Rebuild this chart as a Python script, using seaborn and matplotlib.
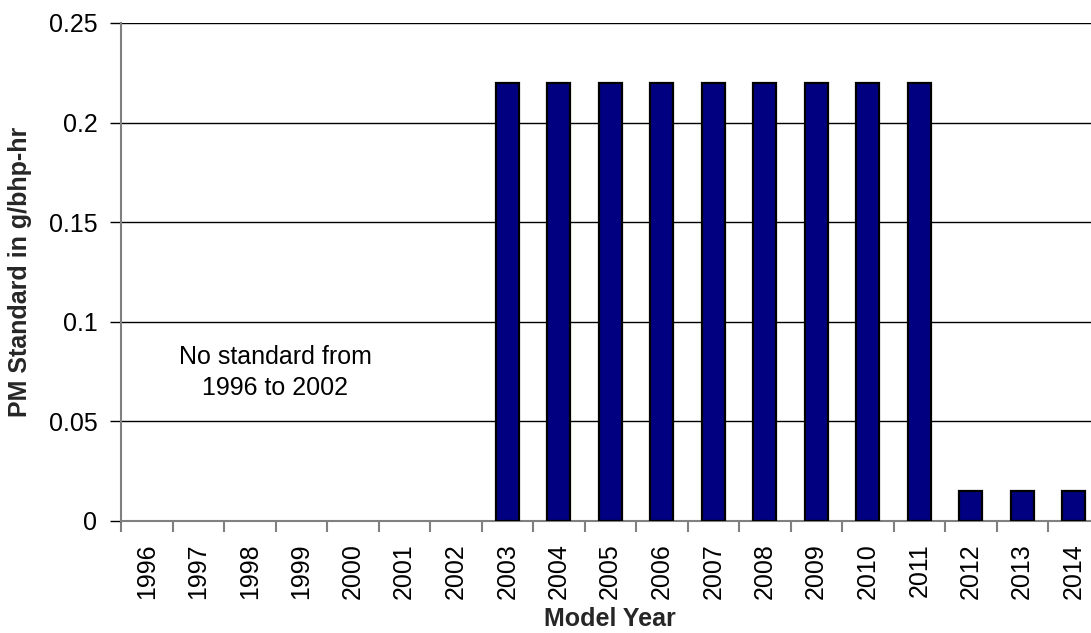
import matplotlib
matplotlib.use("Agg")
import matplotlib.pyplot as plt
import seaborn as sns
import pandas as pd
import numpy as np

years = [str(y) for y in range(1996, 2015)]
pm_standard = [0, 0, 0, 0, 0, 0, 0,
               0.22, 0.22, 0.22, 0.22, 0.22, 0.22, 0.22, 0.22, 0.22,
               0.015, 0.015, 0.015]
y_ticks = [0, 0.05, 0.1, 0.15, 0.2, 0.25]
y_tick_labels = ["0", "0.05", "0.1", "0.15", "0.2", "0.25"]
note_text = "No standard from\n1996 to 2002"

sns.set_theme(style="white")
plt.rcParams['font.family'] = ['Liberation Sans', 'DejaVu Sans']

W, H = 1091, 633
fig = plt.figure(figsize=(W / 100, H / 100), dpi=100)
left, right, top, bottom = 121, 121 + 19 * 51.5, 23, 521
ax = fig.add_axes([left / W, 1 - bottom / H, (right - left) / W, (bottom - top) / H])

df = pd.DataFrame({"year": years, "pm": pm_standard})
sns.barplot(data=df, x="year", y="pm", ax=ax, color="#000080", width=0.45,
            edgecolor="black", linewidth=1.6, saturation=1, zorder=3)
for p in ax.patches:
    if p.get_height() == 0:
        p.set_visible(False)

ax.set_xlim(-0.5, len(years) - 0.5)
ax.set_ylim(0, 0.25)
ax.set_yticks(y_ticks)
ax.set_yticklabels(y_tick_labels)
ax.yaxis.grid(True, color="black", linewidth=1.0, zorder=0)
ax.xaxis.grid(False)
ax.set_axisbelow(True)

for s in ["top", "right"]:
    ax.spines[s].set_visible(False)
for s in ["left", "bottom"]:
    ax.spines[s].set_color("#808080")
    ax.spines[s].set_linewidth(1.5)

ax.tick_params(axis="y", which="major", left=True, length=8, width=1.0,
               color="black", pad=9, labelsize=18, labelcolor="black")
ax.tick_params(axis="x", which="major", bottom=False, length=0, pad=16,
               labelsize=18, labelcolor="black", labelrotation=90)
ax.set_xticks(np.arange(-0.5, len(years), 1.0), minor=True)
ax.tick_params(axis="x", which="minor", bottom=True, length=8, width=1.5,
               color="#808080", direction="out")
for lbl in ax.get_xticklabels():
    lbl.set_va("top")
    lbl.set_ha("center")

ax.set_xlabel("Model Year", fontsize=18, fontweight="bold", labelpad=6)
ax.set_ylabel("PM Standard in g/bhp-hr", fontsize=18, fontweight="bold", labelpad=12)

ax.text(2.5, 0.0745, note_text, ha="center", va="center", fontsize=18,
        linespacing=1.4, color="black")

fig.savefig("out.png", dpi=100)
